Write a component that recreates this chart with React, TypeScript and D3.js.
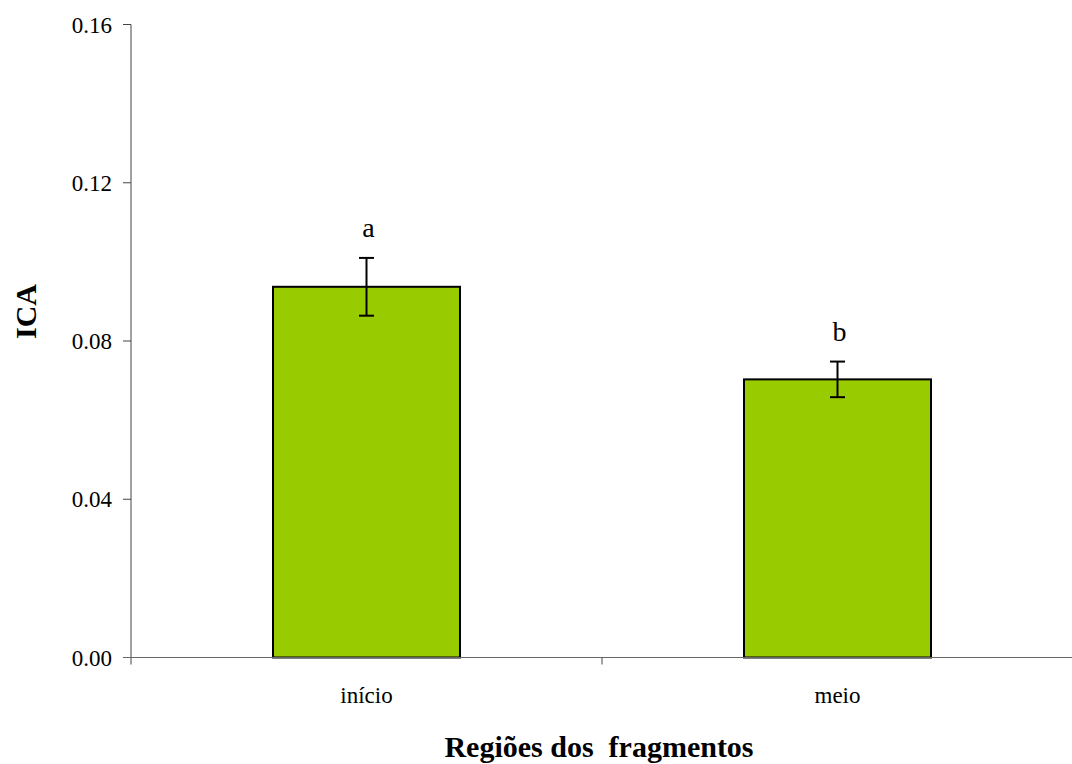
import React from "react";
import * as d3 from "d3";

const categories = ["início", "meio"];
const values = [0.0937, 0.0703];
const errors = [0.0073, 0.0045];
const letters = ["a", "b"];
const yTicks = [0, 0.04, 0.08, 0.12, 0.16];

const W = 1072;
const H = 764;
const left = 131;
const right = 1073;
const top = 24.5;
const bottom = 657.5;

export default function App() {
  const x = d3.scaleBand<string>().domain(categories).range([left, right]).paddingInner(0).paddingOuter(0);
  const y = d3.scaleLinear().domain([0, 0.16]).range([bottom, top]);
  const barW = x.bandwidth() * 0.397;
  const font = "'Liberation Serif', 'Times New Roman', serif";
  return (
    <svg width={W} height={H} style={{ position: "absolute", left: 0, top: 0, background: "#fff" }} fontFamily={font}>
      <rect x={0} y={0} width={W} height={H} fill="#fff" />
      {categories.map((c, i) => {
        const cx = x(c)! + x.bandwidth() / 2;
        const v = values[i];
        const e = errors[i];
        return (
          <g key={c}>
            <rect x={cx - barW / 2} y={y(v)} width={barW} height={y(0) - y(v)} fill="#99cc00" stroke="#000" strokeWidth={2} />
            <line x1={cx} x2={cx} y1={y(v + e)} y2={y(v - e)} stroke="#000" strokeWidth={2} />
            <line x1={cx - 7.5} x2={cx + 7.5} y1={y(v + e)} y2={y(v + e)} stroke="#000" strokeWidth={2} />
            <line x1={cx - 7.5} x2={cx + 7.5} y1={y(v - e)} y2={y(v - e)} stroke="#000" strokeWidth={2} />
            <text x={cx + 2} y={y(v + e) - 21} textAnchor="middle" fontSize={28}>{letters[i]}</text>
            <text x={cx} y={703} textAnchor="middle" fontSize={23}>{c}</text>
          </g>
        );
      })}
      {/* y axis */}
      <line x1={left} x2={left} y1={top} y2={bottom + 7} stroke="#444" strokeWidth={1} />
      {yTicks.map((t) => (
        <g key={t}>
          <line x1={left - 8} x2={left} y1={y(t)} y2={y(t)} stroke="#444" strokeWidth={1} />
          <text x={left - 19} y={y(t) + 8} textAnchor="end" fontSize={23}>{t.toFixed(2)}</text>
        </g>
      ))}
      {/* x axis */}
      <line x1={left - 8} x2={W} y1={bottom} y2={bottom} stroke="#666" strokeWidth={1} />
      {categories.slice(1).map((c) => (
        <line key={c} x1={x(c)!} x2={x(c)!} y1={bottom} y2={bottom + 7} stroke="#444" strokeWidth={1} />
      ))}
      <text x={599} y={757} textAnchor="middle" fontSize={30} fontWeight="bold" style={{ whiteSpace: "pre" }}>
        {"Regiões dos  fragmentos"}
      </text>
      <text transform={`translate(36,${311.5}) rotate(-90)`} textAnchor="middle" fontSize={30} fontWeight="bold">ICA</text>
    </svg>
  );
}
